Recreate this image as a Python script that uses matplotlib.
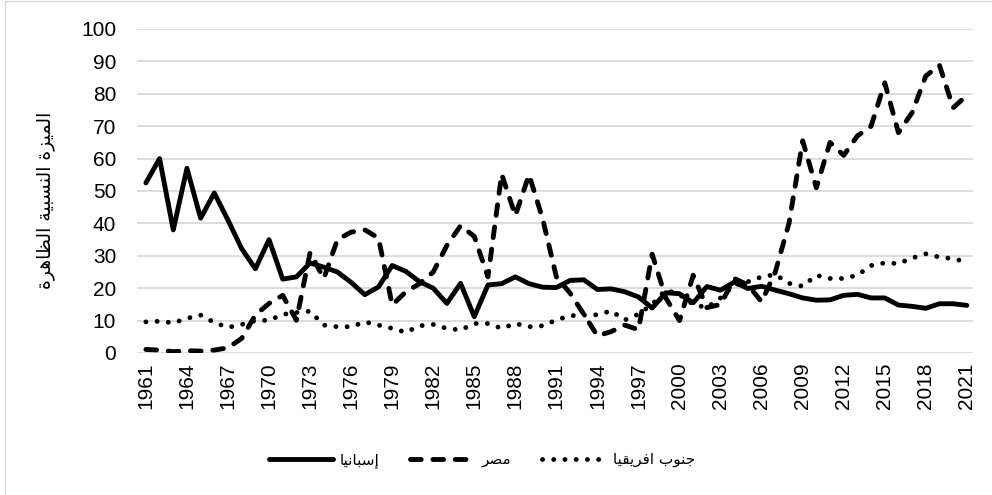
import matplotlib
matplotlib.use("Agg")
import matplotlib.pyplot as plt
from matplotlib.patches import Rectangle

# datos (1961-2021)
years = list(range(1961, 2022))

spain = [52.5, 60, 38, 57, 41.6, 49.4, 41, 32.2, 26, 35,
         22.8, 23.5, 27.8, 26.5, 25, 21.8, 18, 20.4, 27, 25.2,
         22, 20, 15.3, 21.5, 11.2, 21, 21.4, 23.5, 21.4, 20.3,
         20.2, 22.4, 22.6, 19.6, 19.8, 18.9, 17.3, 13.9, 18.6, 18.3,
         15.5, 20.5, 19.4, 21.9, 19.9, 20.6, 19.4, 18.3, 17, 16.3,
         16.4, 17.8, 18.1, 17, 17, 14.8, 14.4, 13.8, 15.2, 15.2,
         14.7]

egypt = [1.1, 0.9, 0.4, 0.7, 0.6, 0.9, 1.6, 4.5, 11.7, 15.3,
         17.8, 10.1, 31, 23, 35, 37.3, 38, 35.5, 14.8, 18.9,
         21.4, 25, 33.2, 39.3, 36, 23.5, 55.2, 42.4, 55, 41.4,
         23.5, 18.5, 12, 5.3, 6.6, 8.6, 7.2, 30.5, 17, 10,
         24, 14, 15, 23, 21, 15.8, 25, 40, 65.5, 51,
         65, 61, 67, 70, 83.4, 68, 74.2, 85.5, 88.8, 75.7,
         79.5]

south_africa = [9.6, 9.8, 9.3, 10.7, 11.7, 9.4, 7.9, 8.8, 10, 10.1,
                11.9, 12.5, 12.9, 8.6, 8.1, 8.1, 9.6, 8.6, 7.6, 6.4,
                8.4, 8.8, 7.6, 7.1, 9.1, 9.1, 7.6, 9.1, 8.1, 8.4,
                10.2, 11.5, 11.7, 11.8, 13, 10.2, 12, 15, 19.5, 18,
                15, 14, 17, 21, 22, 23.5, 24.2, 21.5, 20.6, 24,
                23, 23, 24, 27, 27.8, 27.6, 29.3, 30.6, 29.6, 29.1,
                28.1]

names = ["إسبانيا", "مصر", "جنوب افريقيا"]
y_title = "الميزة النسبية الظاهرة"
y_ticks = list(range(0, 101, 10))
x_ticks = list(range(1961, 2022, 3))

# formas de presentacion arabes: (codigo aislado, numero de formas)
FORMS = {
    "\u0627": (0xFE8D, 2), "\u0625": (0xFE87, 2), "\u0628": (0xFE8F, 4),
    "\u0629": (0xFE93, 2), "\u062C": (0xFE9D, 4), "\u0631": (0xFEAD, 2),
    "\u0632": (0xFEAF, 2), "\u0633": (0xFEB1, 4), "\u0635": (0xFEB9, 4),
    "\u0638": (0xFEC5, 4), "\u0641": (0xFED1, 4), "\u0642": (0xFED5, 4),
    "\u0644": (0xFEDD, 4), "\u0645": (0xFEE1, 4), "\u0646": (0xFEE5, 4),
    "\u0647": (0xFEE9, 4), "\u0648": (0xFEED, 2), "\u064A": (0xFEF1, 4),
}


def shape(text):
    """Une las letras arabes y las pone en orden visual."""
    out = []
    for i, ch in enumerate(text):
        if ch not in FORMS:
            out.append(ch)
            continue
        base, n = FORMS[ch]
        prev = text[i - 1] if i > 0 else ""
        nxt = text[i + 1] if i + 1 < len(text) else ""
        jp = prev in FORMS and FORMS[prev][1] == 4
        jn = n == 4 and nxt in FORMS
        if jp and jn:
            code = base + 3
        elif jp:
            code = base + 1
        elif jn:
            code = base + 2
        else:
            code = base
        out.append(chr(code))
    return "".join(reversed(out))


AR_FONT = ["DejaVu Sans"]
NUM_FONT = ["Liberation Sans", "DejaVu Sans"]

fig = plt.figure(figsize=(9.92, 4.95), dpi=100)
ax = fig.add_axes([137 / 992, 1 - 353 / 495, (973 - 137) / 992, (353 - 29) / 495])

lw = 3.5
ax.plot(years, spain, color="black", lw=lw, solid_joinstyle="round",
        solid_capstyle="round", label=shape(names[0]))
ax.plot(years, egypt, color="black", lw=lw, linestyle=(0, (2.2, 2.4)),
        dash_capstyle="round", dash_joinstyle="round", label=shape(names[1]))
ax.plot(years, south_africa, color="black", lw=lw, linestyle=(0, (0.01, 2.3)),
        dash_capstyle="round", label=shape(names[2]))

ax.set_xlim(1960.35, 2021.45)
ax.set_ylim(0, 100)
ax.set_yticks(y_ticks)
ax.set_xticks(x_ticks)
ax.set_xticklabels([str(y) for y in x_ticks], rotation=90, family=NUM_FONT, fontsize=15)
ax.set_yticklabels([str(v) for v in y_ticks], family=NUM_FONT, fontsize=15)
ax.tick_params(axis="x", length=0, pad=7)
ax.tick_params(axis="y", length=0, pad=15)

ax.grid(axis="y", color="#d9d9d9", lw=1.3)
ax.set_axisbelow(True)
for side in ["top", "right", "left", "bottom"]:
    ax.spines[side].set_visible(False)

fig.text(46 / 992, 1 - 200 / 495, shape(y_title), rotation=90,
         ha="center", va="center", family=AR_FONT, fontsize=13.5)

fig.legend(loc="center", bbox_to_anchor=(482 / 992, 1 - 460 / 495), ncol=3,
           frameon=False, handlelength=4.2, columnspacing=2.0, handletextpad=0.45,
           prop={"family": AR_FONT, "size": 11})

# borde del area del grafico
fig.add_artist(Rectangle((4.5 / 992, -0.1), 2, 1.1 - 1.5 / 495,
                         transform=fig.transFigure, fill=False,
                         edgecolor="#d9d9d9", lw=1))

plt.savefig("out.png", dpi=100)
plt.close()
